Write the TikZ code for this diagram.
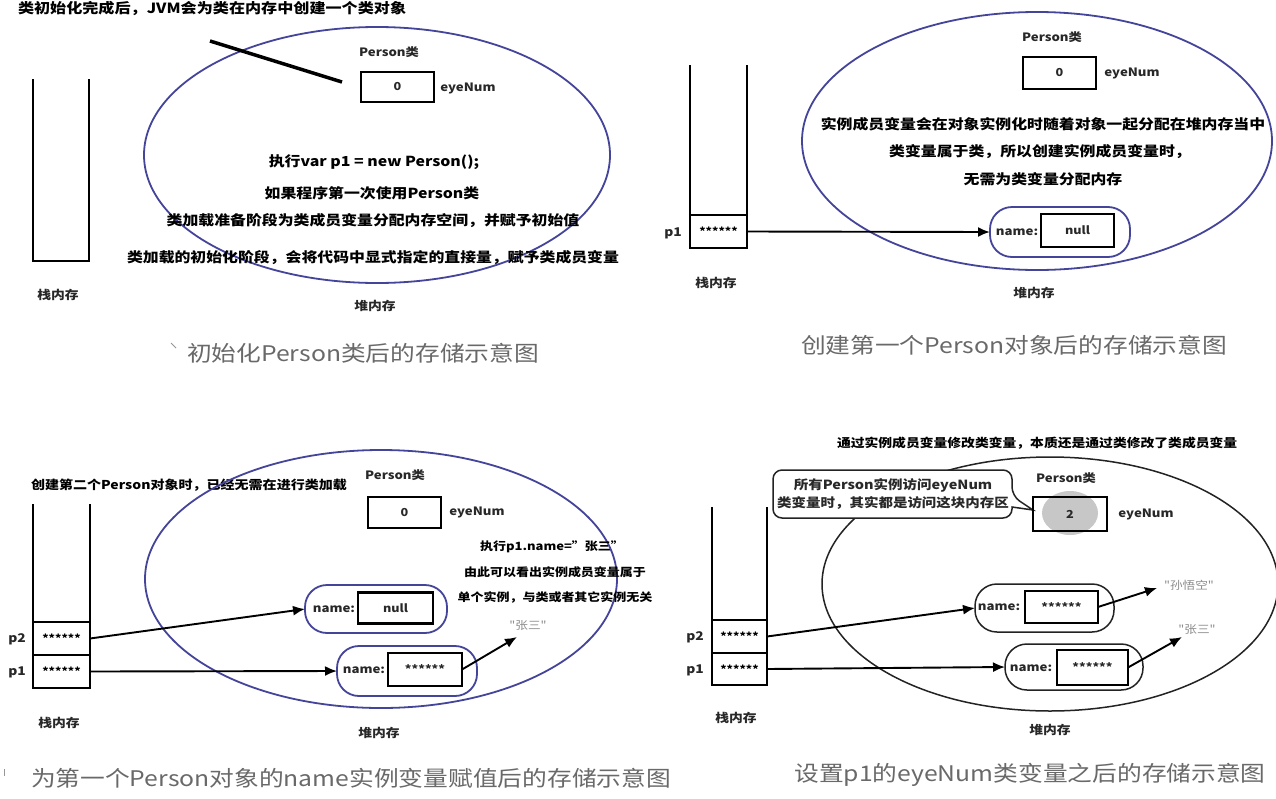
\documentclass[tikz,border=0pt]{standalone}
\usepackage{fontspec}
\usetikzlibrary{arrows.meta}
\newfontfamily\cjk{Noto Sans CJK SC}[FakeStretch=1.15]
\newcommand\myfs[1]{\fontsize{#1}{#1}\selectfont}
\newcommand\mystars{\raisebox{-2.5pt}{******}}
\definecolor{ellblue}{RGB}{68,68,155}
\definecolor{labgray}{RGB}{40,40,40}
\definecolor{capgray}{RGB}{105,105,105}
\definecolor{strgray}{RGB}{140,140,140}
\definecolor{ellblack}{RGB}{35,35,35}
\begin{document}
\begin{tikzpicture}[x=1pt,y=-1pt,
  every node/.style={inner sep=0pt,outer sep=0pt},
  ell/.style={draw=ellblue,line width=1.8pt},
  ellk/.style={draw=ellblack,line width=1.5pt},
  stk/.style={line width=1.8pt},
  ttl/.style={font=\cjk\bfseries\myfs{14},anchor=west},
  etxt/.style={font=\cjk\bfseries\myfs{13.8}},
  stxt/.style={font=\cjk\bfseries\myfs{11.3}},
  lbl/.style={font=\cjk\bfseries\myfs{11.5},text=labgray},
  memtxt/.style={font=\cjk\bfseries\myfs{12},text=labgray},
  captxt/.style={font=\cjk\myfs{21.5},text=capgray},
  vbox/.style={draw,line width=2.4pt,font=\cjk\bfseries\myfs{11},text=labgray},
  pill/.style={draw=ellblue,line width=1.8pt,rounded corners=22pt},
  pillk/.style={draw=ellblack,line width=1.5pt,rounded corners=22pt},
  cellbox/.style={draw,line width=1.6pt,minimum width=56,font=\cjk\bfseries\myfs{10.5}},
  plab/.style={font=\cjk\bfseries\myfs{12},text=labgray},
  strl/.style={font=\cjk\myfs{11},text=strgray},
  arr/.style={line width=1.9pt,-{Latex[length=12pt,width=10pt]}},
  tickmark/.style={draw=capgray!70,line width=1pt}
]
\useasboundingbox (0,0) rectangle (1276,798);
\fill[white] (0,0) rectangle (1276,798);

% ================= Panel 1 =================
\node[ttl] (t1) at (18,8) {类初始化完成后，JVM会为类在内存中创建一个类对象};
\draw[ell] (377,155) ellipse [x radius=233, y radius=128];
\coordinate (l1a) at (210,41);
\coordinate (l1b) at (342,82);
\draw[line width=3.5pt] (l1a) -- (l1b);
\node[lbl] (pc1) at (389,52) {Person类};
\node[vbox,minimum width=73,minimum height=30] (b1) at (397.5,87) {0};
\node[lbl] (e1) at (468,88) {eyeNum};
\draw[stk] (33,79) -- (33,261) -- (89,261) -- (89,79);
\node[memtxt] (s1) at (58,295) {栈内存};
\node[memtxt] (h1) at (375,306) {堆内存};
\node[etxt] (x11) at (374,162) {执行var p1 = new Person();};
\node[etxt] (x12) at (372,193) {如果程序第一次使用Person类};
\node[etxt] (x13) at (373,221) {类加载准备阶段为类成员变量分配内存空间，并赋予初始值};
\node[etxt] (x14) at (373,258) {类加载的初始化阶段，会将代码中显式指定的直接量，赋予类成员变量};
\node[captxt] (c1) at (363,353) {初始化Person类后的存储示意图};
\draw[tickmark] (171,343) -- (176,348);

% ================= Panel 2 =================
\draw[ell] (1037,141) ellipse [x radius=235, y radius=129];
\node[lbl] (pc2) at (1052,37) {Person类};
\node[vbox,minimum width=73,minimum height=32] (b2) at (1059.5,73) {0};
\node[lbl] (e2) at (1132,73) {eyeNum};
\node[etxt] (x21) at (1043,124) {实例成员变量会在对象实例化时随着对象一起分配在堆内存当中};
\node[etxt] (x22) at (1040,152) {类变量属于类，所以创建实例成员变量时，};
\node[etxt] (x23) at (1043,179) {无需为类变量分配内存};
\draw[stk] (690,65) -- (690,248) -- (747,248) -- (747,65);
\node[cellbox,minimum height=33] (p1c2) at (718.5,231.5) {\mystars};
\node[plab] (p1l2) at (673,233) {p1};
\node[pill,minimum width=140,minimum height=50] (n2) at (1060,232) {};
\node[lbl] (nm2) at (1017,232) {name:};
\node[vbox,minimum width=73,minimum height=33] (v2) at (1077.5,230.5) {null};
\draw[arr] (p1c2.east) -- (n2.west);
\node[memtxt] (s2) at (716,283) {栈内存};
\node[memtxt] (h2) at (1034,293) {堆内存};
\node[captxt] (c2) at (1014,345) {创建第一个Person对象后的存储示意图};

% ================= Panel 3 =================
\node[ttl,font=\cjk\bfseries\myfs{12.2}] (t3) at (31,485) {创建第二个Person对象时，已经无需在进行类加载};
\draw[ell] (381,579) ellipse [x radius=236, y radius=129];
\node[lbl] (pc3) at (395,475) {Person类};
\node[vbox,minimum width=73,minimum height=31] (b3) at (404.5,512.5) {0};
\node[lbl] (e3) at (477,512) {eyeNum};
\node[stxt] (x31) at (552,547) {执行p1.name=”张三”};
\node[stxt] (x32) at (555,572) {由此可以看出实例成员变量属于};
\node[stxt] (x33) at (555,597) {单个实例，与类或者其它实例无关};
\draw[stk] (33,504) -- (33,688) -- (90,688) -- (90,504);
\node[cellbox,minimum height=33,minimum width=57] (p2c3) at (61.5,638.5) {\mystars};
\node[cellbox,minimum height=33,minimum width=57] (p1c3) at (61.5,671.5) {\mystars};
\node[plab] (p2l3) at (17,639) {p2};
\node[plab] (p1l3) at (17,672) {p1};
\node[pill,minimum width=142,minimum height=48] (na3) at (376,609) {};
\node[lbl] (nma3) at (334,609) {name:};
\node[vbox,minimum width=75,minimum height=31] (va3) at (395.5,608) {null};
\node[pill,minimum width=140,minimum height=50] (nb3) at (407,671) {};
\node[lbl] (nmb3) at (364,670) {name:};
\node[vbox,minimum width=74,minimum height=33] (vb3) at (425,669.5) {\mystars};
\node[strl] (z3) at (528,625) {"张三"};
\coordinate (z3t) at (517,637);
\draw[arr] (p2c3.east) -- (na3.west);
\draw[arr] (p1c3.east) -- (nb3.west);
\draw[arr] (vb3.east) -- (z3t);
\node[memtxt] (s3) at (59,723) {栈内存};
\node[memtxt] (h3) at (379,733) {堆内存};
\node[captxt,anchor=west] (c3) at (31,778) {为第一个Person对象的name实例变量赋值后的存储示意图};
\draw[tickmark] (4,769) -- (4,776);

% ================= Panel 4 =================
\node[ttl,font=\cjk\bfseries\myfs{12}] (t4) at (837,443) {通过实例成员变量修改类变量，本质还是通过类修改了类成员变量};
\draw[ellk] (1050,584) ellipse [x radius=228, y radius=127];
\draw[ellk,fill=white,rounded corners=9pt] (773,470) -- (1012,470) -- (1012,496) [sharp corners] -- (1033,510) -- (1012,507) [rounded corners=9pt] -- (1012,518) -- (773,518) -- cycle;
\node[font=\cjk\bfseries\myfs{12.6},text=labgray,align=center] (ct4) at (893,494) {所有Person实例访问eyeNum\\[3pt]类变量时，其实都是访问这块内存区};
\node[lbl] (pc4) at (1066,478) {Person类};
\fill[black!22] (1070,513) ellipse [x radius=28, y radius=22];
\node[vbox,minimum width=74,minimum height=34] (b4) at (1070,514) {2};
\node[lbl] (e4) at (1146,514) {eyeNum};
\draw[stk] (712,507) -- (712,685) -- (767,685) -- (767,507);
\node[cellbox,minimum height=33,minimum width=55] (p2c4) at (739.5,636.5) {\mystars};
\node[cellbox,minimum height=32,minimum width=55] (p1c4) at (739.5,669) {\mystars};
\node[plab] (p2l4) at (695,637) {p2};
\node[plab] (p1l4) at (695,670) {p1};
\node[pillk,minimum width=139,minimum height=48] (na4) at (1044.5,608) {};
\node[lbl] (nma4) at (999,607) {name:};
\node[vbox,minimum width=73,minimum height=32] (va4) at (1061.5,607) {\mystars};
\node[pillk,minimum width=138,minimum height=46] (nb4) at (1074,667) {};
\node[lbl] (nmb4) at (1031,668) {name:};
\node[vbox,minimum width=71,minimum height=35] (vb4) at (1092.5,667.5) {\mystars};
\node[strl] (w4) at (1189,585) {"孙悟空"};
\node[strl] (z4) at (1197,629) {"张三"};
\coordinate (w4t) at (1157,588);
\coordinate (z4t) at (1182,637);
\draw[arr] (p2c4.east) -- (na4.west);
\draw[arr] (p1c4.east) -- (nb4.west);
\draw[arr] (va4.east) -- (w4t);
\draw[arr] (vb4.east) -- (z4t);
\node[memtxt] (s4) at (736,718) {栈内存};
\node[memtxt] (h4) at (1050,730) {堆内存};
\node[captxt] (c4) at (1030,775) {设置p1的eyeNum类变量之后的存储示意图};
\end{tikzpicture}
\end{document}
